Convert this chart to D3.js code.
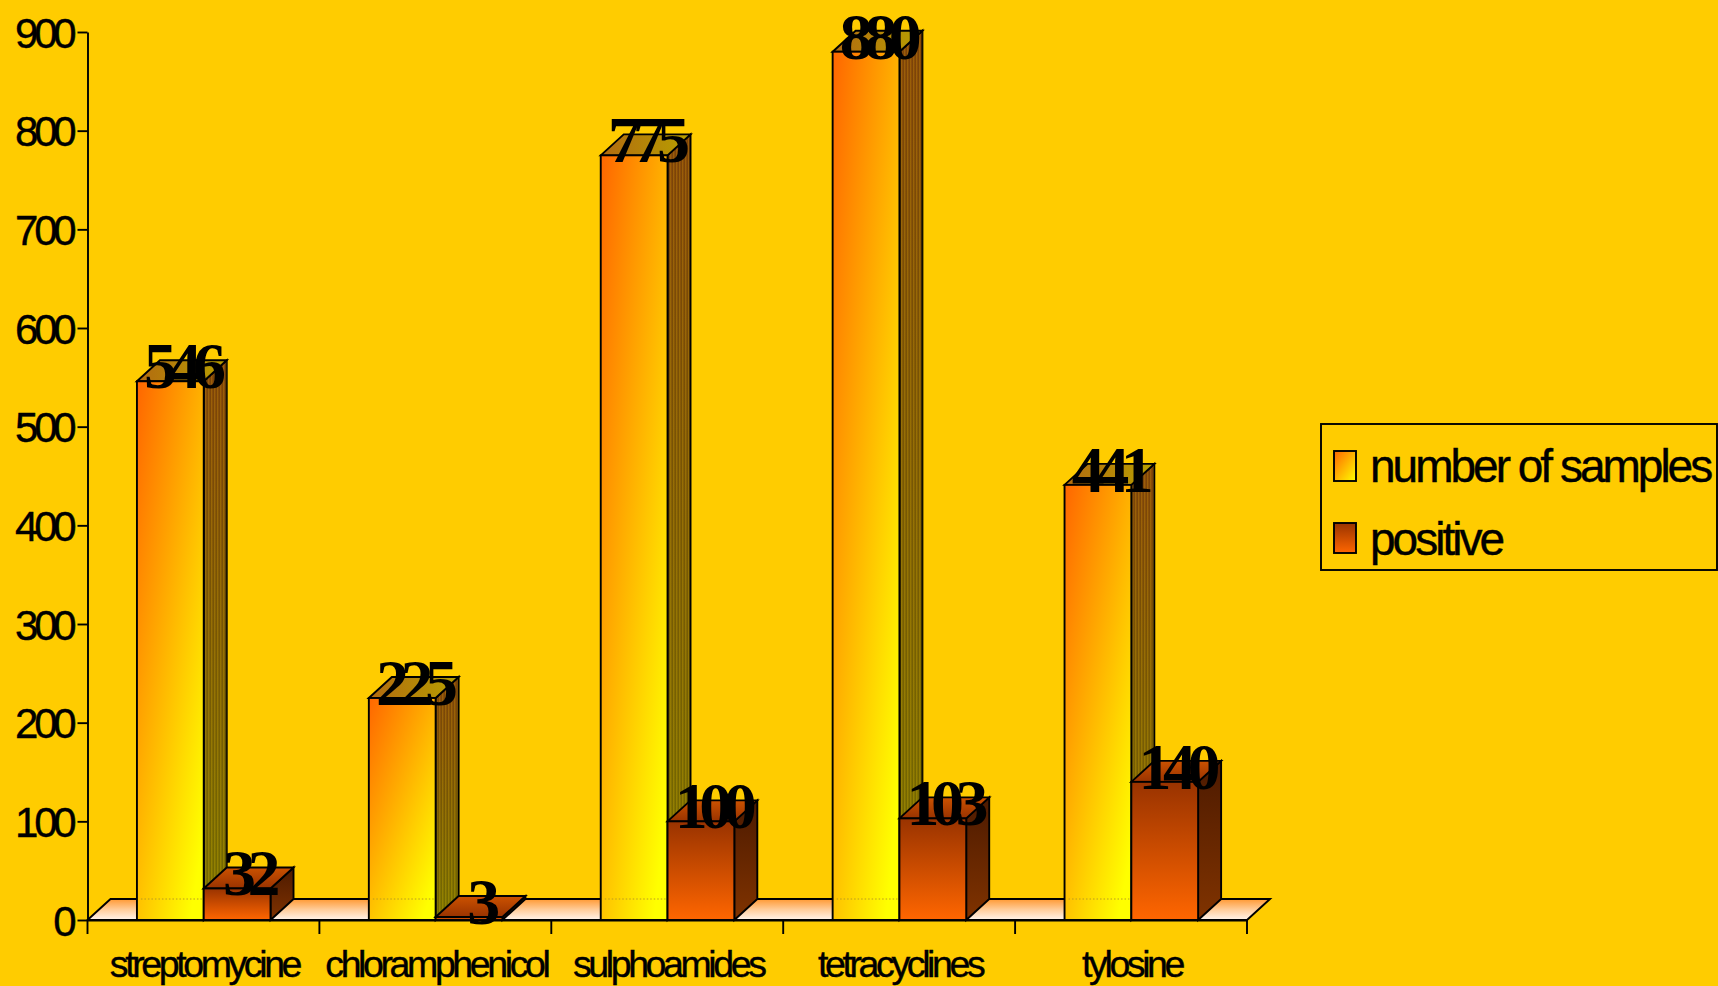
<!DOCTYPE html>
<html>
<head>
<meta charset="utf-8">
<script src="https://cdn.jsdelivr.net/npm/d3@7"></script>
<style>
  html, body { margin: 0; padding: 0; background: #FFCC00; overflow: hidden; }
  svg { display: block; }
  .tick-label { font-family: "Liberation Sans", Arial, sans-serif; font-size: 42px; letter-spacing: -4.2px; fill: #000; stroke: #000; stroke-width: 0.4px; }
  .cat-label { font-family: "Liberation Sans", Arial, sans-serif; font-size: 37.5px; letter-spacing: -3.4px; fill: #000; stroke: #000; stroke-width: 0.4px; }
  .legend-label { font-family: "Liberation Sans", Arial, sans-serif; font-size: 46px; letter-spacing: -3px; fill: #000; stroke: #000; stroke-width: 0.4px; }
  .value-label { font-family: "Liberation Serif", "Times New Roman", serif; font-weight: bold; font-size: 66px; letter-spacing: -8.5px; fill: #000; }
</style>
</head>
<body>
<div id="plot"></div>
<script>
const categories = ["streptomycine", "chloramphenicol", "sulphoamides", "tetracyclines", "tylosine"];
const samples = [546, 225, 775, 880, 441];
const positive = [32, 3, 100, 103, 140];
const yTicks = [0, 100, 200, 300, 400, 500, 600, 700, 800, 900];
const seriesNames = ["number of samples", "positive"];

const width = 1718;
const height = 986;
const margin = { top: 32, right: 471, bottom: 66, left: 87.5 };
const depthX = 23;
const depthY = 21;

const svg = d3.select("#plot")
  .append("svg")
  .attr("width", width)
  .attr("height", height);

svg.append("rect")
  .attr("width", width)
  .attr("height", height)
  .attr("fill", "#FFCC00");

const defs = svg.append("defs");

function gradient(id, stops, x2, y2) {
  const g = defs.append("linearGradient")
    .attr("id", id)
    .attr("x1", 0).attr("y1", 0)
    .attr("x2", x2).attr("y2", y2);
  stops.forEach(s => {
    g.append("stop").attr("offset", s[0]).attr("stop-color", s[1]);
  });
}

gradient("sampleFront", [[0, "#FF6600"], [1, "#FFFF00"]], 0.8, 1);
gradient("sampleSide", [[0, "#8A4A0A"], [1, "#807800"]], 0, 1);
gradient("sampleTop", [[0, "#B26A10"], [1, "#B8A000"]], 1, 0);
gradient("positiveFront", [[0, "#993300"], [1, "#FF6600"]], 0, 1);
gradient("positiveSide", [[0, "#4D1A00"], [1, "#803300"]], 0, 1);
gradient("positiveTop", [[0, "#CC5200"], [1, "#993300"]], 0, 1);
gradient("floorFill", [[0, "#FF9933"], [0.5, "#FFCC99"], [1, "#FFF4EC"]], 0, 1);
gradient("legendSample", [[0, "#FF6600"], [1, "#FFFF00"]], 1, 1);
gradient("legendPositive", [[0, "#993300"], [1, "#FF6600"]], 0, 1);

// fine vertical stripes seen on the side faces
const stripes = defs.append("pattern")
  .attr("id", "stripes")
  .attr("width", 3).attr("height", 3)
  .attr("patternUnits", "userSpaceOnUse");
stripes.append("rect").attr("width", 1).attr("height", 3).attr("fill", "#000").attr("opacity", 0.1);
stripes.append("rect").attr("x", 1).attr("width", 1).attr("height", 3).attr("fill", "#FFD000").attr("opacity", 0.14);

const x = d3.scaleBand()
  .domain(categories)
  .range([margin.left, width - margin.right]);

const y = d3.scaleLinear()
  .domain([0, 900])
  .range([height - margin.bottom, margin.top]);

const barWidth = x.bandwidth() * 0.288;
const barOffset = x.bandwidth() * 0.2132;
const base = y(0);
const lineWidth = 1.9;

// floor
const floorEnd = width - margin.right;
svg.append("path")
  .attr("d", `M${margin.left},${base}L${margin.left + depthX},${base - depthY}L${floorEnd + depthX},${base - depthY}L${floorEnd},${base}Z`)
  .attr("fill", "url(#floorFill)")
  .attr("stroke", "#000")
  .attr("stroke-width", lineWidth);

function drawBar(group, left, value, front, side, top, striped) {
  const t = y(value);
  const r = left + barWidth;
  group.append("path")
    .attr("d", `M${r},${t}L${r + depthX},${t - depthY}L${r + depthX},${base - depthY}L${r},${base}Z`)
    .attr("fill", `url(#${side})`)
    .attr("stroke", "#000").attr("stroke-width", lineWidth);
  if (striped) {
    group.append("path")
      .attr("d", `M${r},${t}L${r + depthX},${t - depthY}L${r + depthX},${base - depthY}L${r},${base}Z`)
      .attr("fill", "url(#stripes)");
  }
  group.append("path")
    .attr("d", `M${left},${t}L${left + depthX},${t - depthY}L${r + depthX},${t - depthY}L${r},${t}Z`)
    .attr("fill", `url(#${top})`)
    .attr("stroke", "#000").attr("stroke-width", lineWidth);
  group.append("rect")
    .attr("x", left)
    .attr("y", t)
    .attr("width", barWidth)
    .attr("height", Math.max(base - t, 0.5))
    .attr("fill", `url(#${front})`)
    .attr("stroke", "#000").attr("stroke-width", lineWidth);
}

const bars = svg.append("g");
categories.forEach((c, i) => {
  const left = x(c) + barOffset;
  drawBar(bars, left, samples[i], "sampleFront", "sampleSide", "sampleTop", true);
  // faint dotted floor line that shows through the first series
  bars.append("line")
    .attr("x1", left + 4).attr("x2", left + barWidth - 2)
    .attr("y1", base - depthY).attr("y2", base - depthY)
    .attr("stroke", "#B89A20").attr("stroke-width", 1).attr("stroke-dasharray", "1.5 2");
  drawBar(bars, left + barWidth, positive[i], "positiveFront", "positiveSide", "positiveTop", false);
});

// axes
const yAxis = svg.append("g")
  .attr("transform", `translate(${margin.left},0)`)
  .call(d3.axisLeft(y).tickValues(yTicks).tickSize(10).tickSizeOuter(0).tickPadding(5));
yAxis.selectAll("text").attr("class", "tick-label").attr("font-size", null).attr("font-family", null).attr("dy", "0.36em");

const xAxis = svg.append("g")
  .attr("transform", `translate(0,${base})`)
  .call(d3.axisBottom(x).tickSize(0).tickSizeOuter(0).tickPadding(0));
xAxis.selectAll("text")
  .attr("class", "cat-label")
  .attr("font-size", null).attr("font-family", null)
  .attr("x", 1)
  .attr("y", 57)
  .attr("dy", 0);

// ticks between the categories
const edges = categories.map(c => x(c)).concat([floorEnd]);
xAxis.selectAll(".edge")
  .data(edges)
  .enter()
  .append("line")
  .attr("class", "edge")
  .attr("x1", d => d).attr("x2", d => d)
  .attr("y1", 0).attr("y2", 14)
  .attr("stroke", "#000");

svg.selectAll(".domain, .tick line, .edge").attr("stroke", "#000").attr("stroke-width", lineWidth);

// value labels
const labels = svg.append("g");
categories.forEach((c, i) => {
  const left = x(c) + barOffset;
  labels.append("text")
    .attr("class", "value-label")
    .attr("text-anchor", "middle")
    .attr("x", left + barWidth / 2 + depthX / 2 - 1)
    .attr("y", y(samples[i]) + 7)
    .text(samples[i]);
  labels.append("text")
    .attr("class", "value-label")
    .attr("text-anchor", "middle")
    .attr("x", left + barWidth * 1.5 + depthX / 2 - 1)
    .attr("y", y(positive[i]) + 7)
    .text(positive[i]);
});

// legend
const legend = svg.append("g");
legend.append("rect")
  .attr("x", 1321).attr("y", 424)
  .attr("width", 396).attr("height", 146)
  .attr("fill", "none")
  .attr("stroke", "#000").attr("stroke-width", lineWidth);
seriesNames.forEach((name, i) => {
  const row = 451 + i * 72;
  legend.append("rect")
    .attr("x", 1334).attr("y", row)
    .attr("width", 22).attr("height", 30)
    .attr("fill", i === 0 ? "url(#legendSample)" : "url(#legendPositive)")
    .attr("stroke", "#000").attr("stroke-width", lineWidth);
  legend.append("text")
    .attr("class", "legend-label")
    .attr("x", 1370)
    .attr("y", row + 31 + i)
    .text(name);
});
</script>
</body>
</html>
